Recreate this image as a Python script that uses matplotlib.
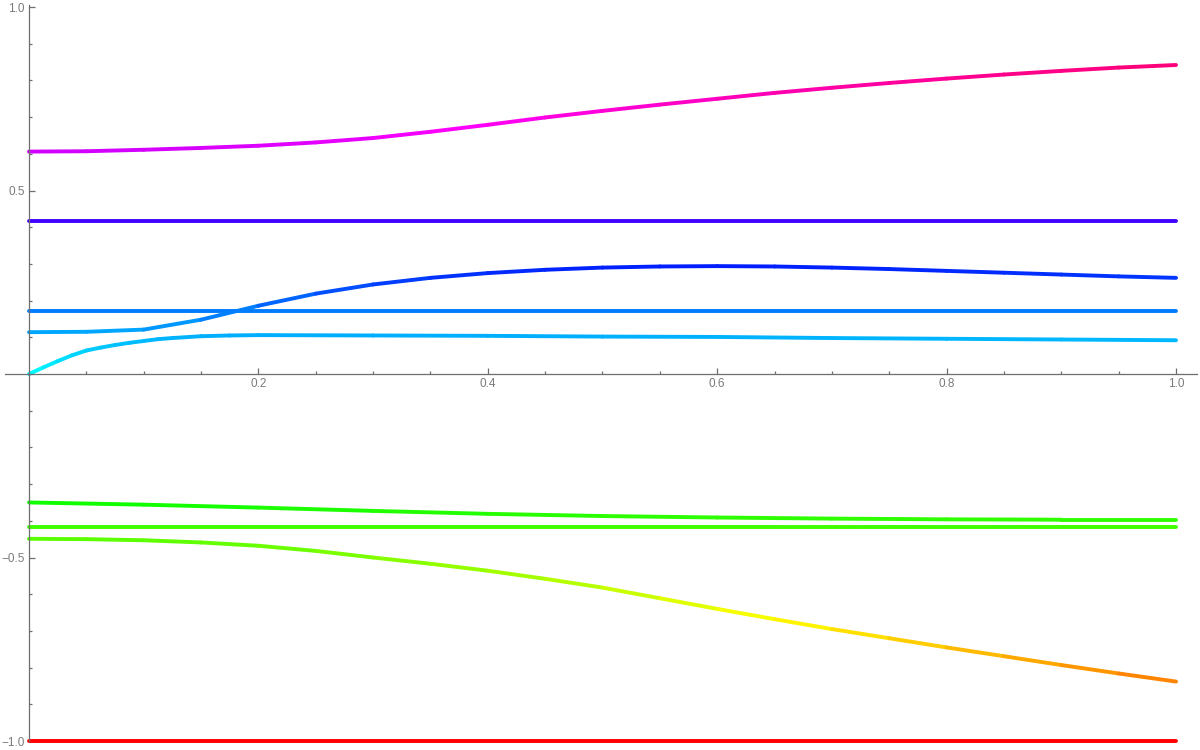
import numpy as np
import matplotlib
matplotlib.use("Agg")
import matplotlib.pyplot as plt
from matplotlib.collections import LineCollection
from matplotlib.colors import hsv_to_rgb
from matplotlib.ticker import MultipleLocator

# curves (x from 0 to 1)
x21 = [0.0, 0.05, 0.1, 0.15, 0.2, 0.25, 0.3, 0.35, 0.4, 0.45, 0.5,
       0.55, 0.6, 0.65, 0.7, 0.75, 0.8, 0.85, 0.9, 0.95, 1.0]

magenta_y = [0.606, 0.607, 0.611, 0.616, 0.622, 0.631, 0.643, 0.660, 0.679, 0.699, 0.717,
             0.734, 0.750, 0.766, 0.780, 0.793, 0.805, 0.816, 0.826, 0.835, 0.842]

blue_y = [0.114, 0.115, 0.121, 0.148, 0.186, 0.219, 0.244, 0.262, 0.275, 0.284, 0.290,
          0.293, 0.294, 0.293, 0.290, 0.286, 0.281, 0.276, 0.271, 0.266, 0.262]

cyan_x = [0.0, 0.0125, 0.025, 0.0375, 0.05, 0.0625, 0.075, 0.0875, 0.1, 0.1125, 0.125,
          0.15, 0.175, 0.2, 0.3, 0.4, 0.5, 0.6, 0.7, 0.8, 0.9, 1.0]
cyan_y = [0.0, 0.018, 0.035, 0.051, 0.064, 0.072, 0.079, 0.085, 0.090, 0.095, 0.098,
          0.103, 0.105, 0.106, 0.105, 0.104, 0.102, 0.101, 0.098, 0.096, 0.094, 0.092]

green_x = [0.0, 0.1, 0.2, 0.3, 0.4, 0.5, 0.6, 0.7, 0.8, 0.9, 1.0]
green_y = [-0.350, -0.356, -0.364, -0.373, -0.381, -0.387, -0.391, -0.394, -0.396, -0.397, -0.397]

falling_y = [-0.449, -0.450, -0.453, -0.459, -0.468, -0.482, -0.500, -0.517, -0.536, -0.558, -0.582,
             -0.611, -0.640, -0.668, -0.695, -0.720, -0.745, -0.769, -0.793, -0.816, -0.838]

flat_levels = [0.416, 0.1725, -0.416, -1.0]

xtick_vals = [0.2, 0.4, 0.6, 0.8, 1.0]
xtick_labels = ["0.2", "0.4", "0.6", "0.8", "1.0"]
ytick_vals = [-1.0, -0.5, 0.5, 1.0]
ytick_labels = ["\u22121.0", "\u22120.5", "0.5", "1.0"]


def hue_line(ax, xs, ys):
    # colour each piece by its height, like Hue[(y+1)/2]
    pts = np.column_stack([xs, ys])
    segs = np.stack([pts[:-1], pts[1:]], axis=1)
    mid = (pts[:-1, 1] + pts[1:, 1]) / 2
    cols = hsv_to_rgb(np.column_stack([(mid + 1) / 2, np.ones_like(mid), np.ones_like(mid)]))
    lc = LineCollection(segs, colors=cols, linewidths=2.8, capstyle="round", clip_on=False)
    ax.add_collection(lc)


fig = plt.figure(figsize=(12, 7.5), dpi=100)
ax = fig.add_axes([5 / 1200, 0, 1192 / 1200, 1])

for lvl in flat_levels:
    hue_line(ax, [0.0, 1.0], [lvl, lvl])
hue_line(ax, x21, magenta_y)
hue_line(ax, x21, blue_y)
hue_line(ax, cyan_x, cyan_y)
hue_line(ax, green_x, green_y)
hue_line(ax, x21, falling_y)

ax.set_xlim(-0.0209, 1.0183)
ax.set_ylim(-1.0245, 1.0191)

for side in ["top", "right"]:
    ax.spines[side].set_visible(False)
ax.spines["left"].set_position(("data", 0))
ax.spines["bottom"].set_position(("data", 0))
ax.spines["left"].set_bounds(-1.0, 1.005)
for side in ["left", "bottom"]:
    ax.spines[side].set_color("#6e6e6e")
    ax.spines[side].set_linewidth(0.9)
ax.set_facecolor("white")

ax.set_xticks(xtick_vals)
ax.set_xticklabels(xtick_labels)
ax.set_yticks(ytick_vals)
ax.set_yticklabels(ytick_labels)
ax.xaxis.set_minor_locator(MultipleLocator(0.05))
ax.yaxis.set_minor_locator(MultipleLocator(0.1))
ax.tick_params(which="both", direction="in", color="#6e6e6e", width=0.9,
               labelsize=8.5, labelcolor="#7a7a7a", labelfontfamily="Liberation Sans")
ax.tick_params(which="major", length=4.0, pad=3)
ax.tick_params(which="minor", length=2.2)

fig.savefig("out.png", dpi=100, facecolor="white")
